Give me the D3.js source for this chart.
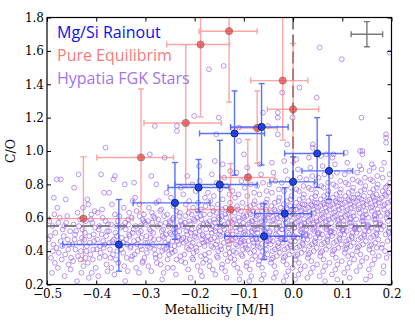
<!DOCTYPE html>
<html>
<head>
<meta charset="utf-8">
<script src="https://cdn.jsdelivr.net/npm/d3@7"></script>
<style>
  body { margin: 0; background: #fff; }
  .axis text { font-family: "DejaVu Serif", serif; font-size: 12px; fill: #000; }
  .axis path, .axis line { stroke: #000; }
</style>
</head>
<body>
<div id="chart"></div>
<script>
// ---- Mg/Si rainout models (blue) ----
var rainoutMH = [-0.354, -0.240, -0.192, -0.149, -0.119, -0.064, 0.049, 0.073, 0.000, -0.017, -0.059]
var rainoutCO = [0.44, 0.689, 0.781, 0.799, 1.105, 1.144, 0.985, 0.881, 0.815, 0.625, 0.489]
var rainoutMHRange = [[-0.468, -0.252], [-0.325, -0.169], [-0.254, -0.130], [-0.240, -0.073], [-0.190, -0.058],
  [-0.127, -0.010], [-0.017, 0.103], [0.018, 0.121], [-0.047, 0.044], [-0.078, 0.037], [-0.139, 0.018]]
var rainoutCORange = [[0.28, 0.709], [0.47, 0.931], [0.635, 0.949], [0.56, 1.064], [0.855, 1.36],
  [0.916, 1.404], [0.781, 1.20], [0.709, 1.094], [0.66, 0.965], [0.46, 0.78], [0.35, 0.685]]

// ---- pure equilibrium models (red) ----
var equilMH = [-0.426, -0.309, -0.218, -0.188, -0.130, -0.021, 0.000, -0.092, -0.127, -0.073]
var equilCO = [0.595, 0.961, 1.168, 1.638, 1.718, 1.422, 1.25, 0.841, 0.649, 1.138]
var equilMHRange = [[-0.495, -0.325], [-0.399, -0.243], [-0.303, -0.146], [-0.257, -0.129], [-0.191, -0.073],
  [-0.086, 0.030], [-0.052, 0.052], [-0.148, -0.037], [-0.215, -0.050], [-0.127, -0.032]]
var equilCORange = [[0.34, 0.965], [0.635, 1.372], [0.785, 1.636], [1.204, 2.1], [1.294, 2.2],
  [1.065, 2.0], [0.93, 1.644], [0.635, 1.069], [0.452, 0.925], [0.927, 1.36]]

// solar reference values and typical stellar error
var solarMH = 0.0
var solarCO = 0.55
var typicalErr = {mh: 0.15, co: 1.70, dmh: 0.032, dco: 0.075}

var legendLabels = ["Mg/Si Rainout", "Pure Equilibrim", "Hypatia FGK Stars"]
var legendColors = ["#0d0df2", "#f57b7b", "#a274ec"]

var xTicks = [-0.5, -0.4, -0.3, -0.2, -0.1, 0.0, 0.1, 0.2]
var yTicks = [0.2, 0.4, 0.6, 0.8, 1.0, 1.2, 1.4, 1.6, 1.8]

// ---- Hypatia catalog stars [M/H, C/O] ----
var hypatia = [
[-.497,.47],[-.492,.36],[-.489,.55],[-.485,.62],[-.481,.42],[-.478,.30],[-.495,.58],[-.487,.44],[-.483,.51],[-.476,.39],[-.490,.27],[-.479,.66],[-.484,.33],[-.493,.49],[-.477,.57],[-.488,.40],[-.480,.83],[-.486,.72],
[-.472,.46],[-.468,.53],[-.463,.38],[-.459,.61],[-.455,.44],[-.452,.29],[-.470,.35],[-.466,.49],[-.461,.57],[-.457,.41],[-.453,.52],[-.474,.60],[-.464,.25],[-.458,.47],[-.451,.36],[-.469,.43],[-.462,.71],[-.456,.32],[-.472,.83],[-.465,.55],
[-.448,.44],[-.445,.78],[-.441,.52],[-.437,.37],[-.433,.59],[-.429,.48],[-.426,.31],[-.446,.56],[-.442,.41],[-.438,.63],[-.434,.45],[-.430,.27],[-.447,.34],[-.443,.50],[-.439,.22],[-.435,.55],[-.431,.40],[-.427,.66],[-.436,.86],[-.444,.47],[-.432,.35],[-.428,.53],
[-.423,.51],[-.419,.43],[-.416,.68],[-.412,.38],[-.408,.57],[-.404,.46],[-.401,.30],[-.422,.36],[-.418,.71],[-.414,.49],[-.410,.62],[-.406,.41],[-.402,.54],[-.421,.58],[-.417,.33],[-.413,.45],[-.409,.27],[-.405,.50],[-.420,.40],[-.411,.59],[-.407,.35],[-.403,.64],[-.415,.24],[-.424,.47],
[-.398,.47],[-.395,.53],[-.391,.39],[-.387,.60],[-.383,.44],[-.379,.32],[-.376,.56],[-.397,.63],[-.393,.36],[-.389,.50],[-.385,.42],[-.381,.58],[-.377,.28],[-.399,.41],[-.394,.55],[-.390,.86],[-.386,.46],[-.382,.37],[-.378,.52],[-.396,.25],[-.388,.65],[-.384,.75],[-.380,.49],[-.392,.43],[-.381,1.02],
[-.373,.45],[-.370,.56],[-.366,.38],[-.362,.62],[-.358,.49],[-.355,.33],[-.351,.54],[-.372,.41],[-.368,.68],[-.364,.47],[-.360,.35],[-.356,.58],[-.352,.43],[-.374,.52],[-.369,.30],[-.365,.83],[-.361,.51],[-.357,.40],[-.353,.61],[-.371,.36],[-.367,.46],[-.363,.26],[-.359,.55],[-.354,.44],[-.374,.75],[-.362,.85],
[-.348,.48],[-.345,.39],[-.341,.57],[-.337,.44],[-.333,.63],[-.329,.35],[-.326,.51],[-.347,.55],[-.343,.31],[-.339,.47],[-.335,.59],[-.331,.42],[-.327,.37],[-.349,.41],[-.344,.66],[-.340,.53],[-.336,.28],[-.332,.49],[-.328,.60],[-.346,.45],[-.342,.80],[-.338,.36],[-.334,.56],[-.330,.43],[-.326,.70],[-.341,.22],[-.333,.50],
[-.323,.46],[-.320,.55],[-.316,.40],[-.312,.61],[-.308,.48],[-.305,.34],[-.301,.57],[-.322,.38],[-.318,.64],[-.314,.51],[-.310,.43],[-.306,.59],[-.302,.36],[-.324,.53],[-.319,.30],[-.315,.47],[-.311,.55],[-.307,.41],[-.303,.62],[-.321,.72],[-.317,.44],[-.313,.27],[-.309,.52],[-.304,.58],[-.323,.81],[-.300,.45],[-.312,.68],[-.306,.33],
[-.298,.49],[-.295,.58],[-.291,.42],[-.287,.63],[-.283,.47],[-.279,.36],[-.276,.55],[-.297,.39],[-.293,.66],[-.289,.52],[-.285,.44],[-.281,.60],[-.277,.33],[-.299,.56],[-.294,.31],[-.290,.48],[-.286,.57],[-.282,.41],[-.278,.69],[-.296,.45],[-.292,.53],[-.288,.28],[-.284,.51],[-.280,.38],[-.291,.98],[-.288,.85],[-.278,.80],[-.284,.61],[-.295,.43],[-.281,1.15],
[-.273,.47],[-.270,.56],[-.266,.40],[-.262,.61],[-.258,.50],[-.255,.35],[-.251,.58],[-.272,.43],[-.268,.65],[-.264,.53],[-.260,.45],[-.256,.62],[-.252,.38],[-.274,.59],[-.269,.32],[-.265,.49],[-.261,.96],[-.257,.42],[-.253,.55],[-.271,.37],[-.267,.52],[-.263,.27],[-.259,.57],[-.254,.44],[-.273,.70],[-.262,.48],[-.257,.75],[-.266,.23],[-.250,.51],[-.270,.64],[-.255,.30],[-.260,.41],
[-.248,.50],[-.245,.59],[-.241,.43],[-.237,.64],[-.233,.48],[-.229,.37],[-.226,.56],[-.247,.41],[-.243,.67],[-.239,.54],[-.235,.46],[-.231,.61],[-.227,.34],[-.249,.57],[-.244,.30],[-.240,.51],[-.236,1.15],[-.236,1.12],[-.232,.44],[-.228,.58],[-.246,.39],[-.242,.53],[-.238,.26],[-.234,.49],[-.230,.63],[-.248,.72],[-.240,.40],[-.233,.55],[-.228,.78],[-.245,.46],[-.237,.35],[-.226,.47],[-.243,.60],[-.231,.52],
[-.223,.48],[-.220,.57],[-.216,.42],[-.212,.63],[-.208,.51],[-.205,.36],[-.201,.59],[-.222,.45],[-.218,.68],[-.214,.54],[-.210,.47],[-.206,.62],[-.202,.39],[-.224,.55],[-.219,.33],[-.215,.50],[-.211,.58],[-.207,.43],[-.203,.66],[-.221,.38],[-.217,.52],[-.213,.29],[-.209,.56],[-.204,.45],[-.201,1.21],[-.223,.74],[-.212,.41],[-.206,.53],[-.200,.49],[-.219,.61],[-.215,.85],[-.208,.24],[-.211,.70],[-.203,.35],[-.217,.46],[-.205,.80],
[-.198,.51],[-.195,.60],[-.191,.44],[-.187,.65],[-.183,.49],[-.179,.38],[-.176,.57],[-.197,.42],[-.193,.69],[-.189,.55],[-.185,.47],[-.181,.62],[-.177,.35],[-.199,.58],[-.194,.31],[-.190,.52],[-.186,.59],[-.182,.45],[-.178,.67],[-.196,.40],[-.192,.54],[-.188,.28],[-.184,.50],[-.180,.43],[-.171,1.49],[-.198,.76],[-.187,.37],[-.182,.56],[-.176,.46],[-.194,.64],[-.190,.82],[-.185,.25],[-.179,.72],[-.197,.48],[-.183,.33],[-.177,.53],[-.191,.91],[-.188,.61],
[-.173,.49],[-.170,.58],[-.166,.43],[-.162,.64],[-.158,.52],[-.155,.37],[-.151,.60],[-.172,.46],[-.168,.70],[-.164,.55],[-.160,.48],[-.156,.63],[-.152,.40],[-.174,.56],[-.169,.34],[-.165,.51],[-.161,.59],[-.157,.44],[-.153,.68],[-.171,.39],[-.167,.53],[-.163,.29],[-.159,.57],[-.154,.46],[-.151,1.20],[-.156,1.10],[-.173,.75],[-.162,.42],[-.157,.54],[-.150,.50],[-.169,.62],[-.165,.86],[-.158,.26],[-.161,.73],[-.153,.36],[-.167,.47],[-.155,.81],[-.170,.31],[-.164,.66],[-.159,.94],
[-.148,.52],[-.145,.61],[-.141,.45],[-.137,.66],[-.133,.50],[-.129,.39],[-.126,.58],[-.147,.43],[-.143,.71],[-.139,.56],[-.135,.48],[-.131,.63],[-.127,.36],[-.149,.59],[-.144,.32],[-.140,.53],[-.136,.60],[-.132,.46],[-.128,.69],[-.146,.41],[-.142,.55],[-.138,.28],[-.134,.51],[-.130,.44],[-.141,1.51],[-.148,.77],[-.137,.38],[-.132,.57],[-.126,.47],[-.144,.65],[-.140,.84],[-.135,.24],[-.129,.74],[-.147,.49],[-.133,.34],[-.127,.54],[-.143,.92],[-.138,.62],[-.131,.42],[-.145,.30],[-.136,.79],[-.128,.88],
[-.123,.50],[-.120,.59],[-.116,.44],[-.112,.65],[-.108,.53],[-.105,.38],[-.101,.61],[-.122,.47],[-.118,.72],[-.114,.56],[-.110,.49],[-.106,.64],[-.102,.41],[-.124,.57],[-.119,.35],[-.115,.52],[-.111,.60],[-.107,.45],[-.103,.69],[-.121,.40],[-.117,.54],[-.113,.30],[-.109,.58],[-.104,.47],[-.110,1.14],[-.110,1.06],[-.100,.98],[-.123,.76],[-.112,.43],[-.107,.55],[-.100,.51],[-.119,.63],[-.115,.87],[-.108,.27],[-.111,.74],[-.103,.37],[-.117,.48],[-.105,.82],[-.120,.32],[-.114,.67],[-.109,.23],[-.102,.57],[-.116,.39],[-.106,.46],
[-.098,.52],[-.095,.61],[-.091,.46],[-.087,.67],[-.083,.51],[-.079,.40],[-.076,.59],[-.097,.44],[-.093,.73],[-.089,.57],[-.085,.49],[-.081,.64],[-.077,.37],[-.099,.60],[-.094,.33],[-.090,.54],[-.086,.62],[-.082,.47],[-.078,.70],[-.096,.42],[-.092,.56],[-.088,.29],[-.084,.52],[-.080,.45],[-.098,.78],[-.087,.39],[-.082,.58],[-.076,.48],[-.094,.66],[-.090,.85],[-.085,.25],[-.079,.75],[-.097,.50],[-.083,.35],[-.077,.55],[-.093,.90],[-.088,.63],[-.081,.43],[-.095,.31],[-.086,.80],[-.078,.53],[-.092,.41],[-.080,.68],[-.089,.22],[-.084,.58],[-.099,.46],
[-.073,.53],[-.070,.62],[-.066,.47],[-.062,.68],[-.058,.52],[-.055,.41],[-.051,.60],[-.072,.45],[-.068,.74],[-.064,.58],[-.060,.50],[-.056,.65],[-.052,.38],[-.074,.61],[-.069,.34],[-.065,.55],[-.061,1.23],[-.057,.48],[-.053,.71],[-.071,.43],[-.067,.57],[-.063,.30],[-.059,.53],[-.054,.46],[-.051,1.15],[-.073,.79],[-.062,.40],[-.057,.59],[-.050,.49],[-.069,.67],[-.065,.86],[-.060,.26],[-.054,.76],[-.072,.51],[-.058,.36],[-.052,.56],[-.068,.92],[-.063,.64],[-.056,.44],[-.070,.32],[-.061,.81],[-.053,.54],[-.067,.42],[-.055,.69],[-.064,.23],[-.059,.60],[-.074,.47],[-.066,.37],
[-.048,.51],[-.045,.63],[-.041,.46],[-.037,.69],[-.033,.54],[-.029,.42],[-.026,.61],[-.047,.47],[-.043,.75],[-.039,.59],[-.035,.50],[-.031,1.23],[-.031,1.20],[-.031,1.10],[-.027,.39],[-.049,.62],[-.044,.35],[-.040,.56],[-.036,.64],[-.032,.49],[-.028,.72],[-.046,.44],[-.042,.58],[-.038,.31],[-.034,.53],[-.030,.45],[-.048,.80],[-.037,.41],[-.032,.60],[-.026,.48],[-.044,.67],[-.040,.87],[-.035,.27],[-.029,.77],[-.047,.52],[-.033,.37],[-.027,.55],[-.043,.93],[-.038,.65],[-.031,.43],[-.045,.33],[-.036,.82],[-.028,.57],[-.042,.40],[-.030,.70],[-.039,.24],[-.034,.62],[-.049,.46],[-.041,.36],[-.025,.66],
[-.023,.53],[-.020,.64],[-.016,.47],[-.012,.70],[-.008,.55],[-.005,.43],[-.001,.62],[-.022,1.35],[-.022,.48],[-.018,.76],[-.014,.60],[-.010,.51],[-.006,.67],[-.002,.40],[-.024,.63],[-.019,.36],[-.015,.57],[-.011,.65],[-.007,.50],[-.003,.73],[-.021,.45],[-.017,.59],[-.013,.32],[-.009,.54],[-.004,.46],[-.012,1.04],[-.001,1.20],[-.023,.81],[-.012,.42],[-.007,.61],[-.000,.49],[-.019,.68],[-.015,.88],[-.010,.28],[-.004,.78],[-.022,.53],[-.008,.38],[-.002,.56],[-.018,.94],[-.013,.66],[-.006,.44],[-.020,.34],[-.011,.83],[-.003,.58],[-.017,.41],[-.005,.71],[-.014,.25],[-.009,.63],[-.024,.47],[-.016,.37],[-.001,.30],[-.019,.22],
[.002,.54],[.005,.65],[.009,.48],[.013,1.38],[.013,.71],[.017,.56],[.020,.44],[.024,.63],[.003,.49],[.007,.77],[.011,.61],[.015,.52],[.019,.68],[.023,.41],[.001,.64],[.006,.37],[.010,.58],[.014,.66],[.018,.51],[.022,.74],[.004,.46],[.008,.60],[.012,.33],[.016,.55],[.021,.47],[.002,.82],[.013,.43],[.018,.62],[.025,.50],[.006,.69],[.010,.89],[.015,.29],[.021,.79],[.003,.54],[.017,.39],[.023,.57],[.007,.95],[.012,.67],[.019,.45],[.005,.35],[.014,.84],[.022,.59],[.008,.42],[.020,.72],[.011,.26],[.016,.64],[.001,.48],[.009,.38],[.024,.31],[.004,.23],[.018,.53],[.012,.76],[.006,.57],[.023,.68],
[.027,.53],[.030,.66],[.034,.49],[.038,.72],[.042,.57],[.045,.45],[.049,.64],[.028,.50],[.032,.78],[.036,.62],[.040,1.04],[.040,1.02],[.040,.53],[.044,.69],[.048,1.32],[.048,.42],[.026,.65],[.031,.38],[.035,.59],[.039,.67],[.043,.52],[.047,.75],[.029,.47],[.033,.61],[.037,.34],[.041,.56],[.046,.48],[.027,.83],[.038,.44],[.043,.63],[.050,.51],[.031,.70],[.035,.90],[.040,.30],[.046,.80],[.028,.55],[.042,.40],[.048,.58],[.032,.96],[.037,.68],[.044,.46],[.030,.36],[.039,.85],[.047,.60],[.033,.43],[.045,.73],[.036,.27],[.041,.65],[.026,.49],[.034,.39],[.049,.32],[.029,.24],[.043,.54],[.037,.77],[.031,.58],[.048,.69],
[.052,.55],[.055,.67],[.059,.50],[.063,.73],[.067,.58],[.070,.46],[.074,.65],[.053,.51],[.057,.79],[.061,.63],[.065,.54],[.069,.70],[.073,.43],[.051,.66],[.056,.39],[.060,.60],[.064,.68],[.068,.53],[.072,.76],[.054,.48],[.058,.62],[.062,.35],[.066,.57],[.071,.49],[.054,1.62],[.067,.98],[.052,.84],[.063,.45],[.068,.64],[.075,.52],[.056,.71],[.060,.91],[.065,.31],[.071,.81],[.053,.56],[.067,.41],[.073,.59],[.057,.97],[.062,.69],[.069,.47],[.055,.37],[.064,.86],[.072,.61],[.058,.44],[.070,.74],[.061,.28],[.066,.66],[.051,.50],[.059,.40],[.074,.33],[.054,.25],[.068,.55],[.062,.78],[.056,.59],[.073,.70],[.065,.22],
[.077,.54],[.080,.68],[.084,.51],[.088,.74],[.092,.59],[.095,.47],[.099,1.55],[.099,.66],[.078,.52],[.082,.80],[.086,.64],[.090,.55],[.094,.71],[.098,.44],[.076,.67],[.081,.40],[.085,.61],[.089,.69],[.093,.54],[.097,.77],[.079,.49],[.083,.63],[.087,.36],[.091,.58],[.096,.50],[.080,.96],[.077,.85],[.088,.46],[.093,.65],[.100,.53],[.081,.72],[.085,.92],[.090,.32],[.096,.82],[.078,.57],[.092,.42],[.098,.60],[.082,.98],[.087,.70],[.094,.48],[.080,.38],[.089,.87],[.097,.62],[.083,.45],[.095,.75],[.086,.29],[.091,.67],[.076,.51],[.084,.41],[.099,.34],[.079,.26],[.093,.56],[.087,.79],[.081,.60],[.098,.71],[.090,.23],
[.102,.56],[.105,.69],[.109,.52],[.113,.75],[.117,.60],[.120,.48],[.124,.67],[.103,.53],[.107,.81],[.111,.65],[.115,.57],[.119,.72],[.123,.45],[.101,.68],[.106,.41],[.110,.62],[.114,.70],[.118,.55],[.122,.78],[.104,.50],[.108,.64],[.112,.37],[.116,.59],[.121,.51],[.105,.86],[.113,.47],[.118,.66],[.125,.54],[.106,.73],[.110,.93],[.115,.33],[.121,.83],[.103,.58],[.117,.43],[.123,.61],[.107,.99],[.112,.71],[.119,.49],[.105,.39],[.114,.88],[.122,.63],[.108,.46],[.120,.76],[.111,.30],[.116,.68],[.101,.52],[.109,.42],[.124,.35],[.104,.27],[.118,.57],[.112,.80],[.106,.61],[.123,.72],[.115,.24],[.110,.44],[.120,.38],
[.127,.55],[.130,.70],[.134,.53],[.138,.76],[.142,.61],[.145,.49],[.149,.68],[.128,.54],[.132,.82],[.136,1.00],[.139,1.20],[.141,1.00],[.141,.98],[.136,.66],[.140,.58],[.144,.73],[.148,.46],[.126,.69],[.131,.42],[.135,.63],[.139,.71],[.143,.56],[.147,.79],[.129,.51],[.133,.65],[.137,.38],[.141,.60],[.146,.52],[.130,.87],[.138,.48],[.143,.67],[.150,.55],[.131,.74],[.135,.91],[.140,.34],[.146,.84],[.128,.59],[.142,.44],[.148,.62],[.134,.72],[.144,.50],[.130,.40],[.139,.89],[.147,.64],[.133,.47],[.145,.77],[.136,.31],[.141,.69],[.126,.53],[.134,.43],[.149,.36],[.129,.28],[.143,.58],[.137,.81],[.148,.23],
[.152,.56],[.155,.71],[.159,.54],[.163,.77],[.167,.62],[.170,.50],[.174,.69],[.153,.55],[.157,.83],[.161,.67],[.165,.59],[.169,.74],[.173,.47],[.151,.70],[.156,.43],[.160,.64],[.164,.72],[.168,.57],[.172,.80],[.154,.52],[.158,.66],[.162,.39],[.166,.61],[.171,.53],[.155,.88],[.163,.49],[.168,.68],[.175,.56],[.156,.75],[.160,.92],[.165,.35],[.171,.85],[.153,.60],[.167,.45],[.173,.63],[.162,.73],[.169,.51],[.155,.41],[.164,.90],[.172,.65],[.158,.48],[.170,.78],[.161,.32],[.166,.70],[.151,.54],[.159,.44],[.174,.37],[.154,.29],[.168,.59],[.162,.82],[.157,.25],[.170,.42],
[.177,.57],[.180,.72],[.184,.55],[.188,.78],[.192,.63],[.195,.51],[.199,.70],[.178,.56],[.182,.84],[.186,.68],[.190,.60],[.194,.75],[.198,.48],[.176,.71],[.181,.44],[.185,.65],[.189,.73],[.193,.58],[.197,.81],[.179,.53],[.183,.67],[.187,.40],[.191,.62],[.196,.54],[.189,1.10],[.189,1.08],[.189,1.05],[.196,1.59],[.180,.89],[.188,.50],[.193,.69],[.182,.76],[.185,.93],[.190,.36],[.196,.86],[.178,.61],[.192,.46],[.198,.64],[.187,.74],[.194,.52],[.180,.42],[.184,.31],[.191,.79],[.197,.39],[.183,.27]
]

var W = 415, H = 326
var margin = { top: 17.5, right: 23.5, bottom: 41.5, left: 47 },
  width = W - margin.left - margin.right,
  height = H - margin.top - margin.bottom

var svg = d3.select("#chart")
  .append("svg")
  .attr("width", W)
  .attr("height", H)
  .append("g")
  .attr("transform", "translate(" + margin.left + "," + margin.top + ")")

var x = d3.scaleLinear().domain([-0.5, 0.2]).range([0, width])
var y = d3.scaleLinear().domain([0.2, 1.8]).range([height, 0])

svg.append("clipPath").attr("id", "plotClip")
  .append("rect").attr("width", width).attr("height", height)

var plot = svg.append("g").attr("clip-path", "url(#plotClip)")

// Hypatia stars
plot.append("g")
  .selectAll("circle")
  .data(hypatia)
  .enter()
  .append("circle")
  .attr("cx", function(d) { return x(d[0]) })
  .attr("cy", function(d) { return y(d[1]) })
  .attr("r", 2.4)
  .style("fill", "none")
  .style("stroke", "#9866ee")
  .style("stroke-width", 1)
  .style("opacity", 0.68)

// solar dashed lines
plot.append("line")
  .attr("x1", 0).attr("x2", width)
  .attr("y1", y(solarCO)).attr("y2", y(solarCO))
  .style("stroke", "#6e6e6e").style("stroke-width", 2)
  .style("stroke-dasharray", "12,5").style("opacity", 0.85)
plot.append("line")
  .attr("x1", x(solarMH)).attr("x2", x(solarMH))
  .attr("y1", 0).attr("y2", height)
  .style("stroke", "#6e6e6e").style("stroke-width", 2)
  .style("stroke-dasharray", "12,5").style("opacity", 0.85)

// error bars with caps
var cap = 3
function drawErrors(g, mh, co, mhR, coR, color, opacity) {
  var eg = g.append("g").style("stroke", color).style("stroke-width", 1.4).style("opacity", opacity)
  mh.forEach(function(m, i) {
    var cx = x(m), cy = y(co[i])
    var x0 = x(mhR[i][0]), x1 = x(mhR[i][1])
    var y0 = y(coR[i][0]), y1 = y(coR[i][1])
    eg.append("line").attr("x1", x0).attr("x2", x1).attr("y1", cy).attr("y2", cy)
    eg.append("line").attr("x1", cx).attr("x2", cx).attr("y1", y0).attr("y2", y1)
    eg.append("line").attr("x1", x0).attr("x2", x0).attr("y1", cy - cap).attr("y2", cy + cap)
    eg.append("line").attr("x1", x1).attr("x2", x1).attr("y1", cy - cap).attr("y2", cy + cap)
    eg.append("line").attr("x1", cx - cap).attr("x2", cx + cap).attr("y1", y0).attr("y2", y0)
    eg.append("line").attr("x1", cx - cap).attr("x2", cx + cap).attr("y1", y1).attr("y2", y1)
  })
}

drawErrors(plot, equilMH, equilCO, equilMHRange, equilCORange, "#ff6a6a", 0.6)
plot.append("g")
  .selectAll("circle")
  .data(equilMH)
  .enter()
  .append("circle")
  .attr("cx", function(d) { return x(d) })
  .attr("cy", function(d, i) { return y(equilCO[i]) })
  .attr("r", 3.6)
  .style("fill", "#f03c3c")
  .style("stroke", "#5a4a4a")
  .style("stroke-width", 0.8)
  .style("opacity", 0.7)

drawErrors(plot, rainoutMH, rainoutCO, rainoutMHRange, rainoutCORange, "#2146ff", 0.75)
plot.append("g")
  .selectAll("circle")
  .data(rainoutMH)
  .enter()
  .append("circle")
  .attr("cx", function(d) { return x(d) })
  .attr("cy", function(d, i) { return y(rainoutCO[i]) })
  .attr("r", 3.6)
  .style("fill", "#1e44e6")
  .style("stroke", "#0b1a5c")
  .style("stroke-width", 0.8)

// typical error cross
drawErrors(plot, [typicalErr.mh], [typicalErr.co],
  [[typicalErr.mh - typicalErr.dmh, typicalErr.mh + typicalErr.dmh]],
  [[typicalErr.co - typicalErr.dco, typicalErr.co + typicalErr.dco]], "#7a7a7a", 1)

// axes, ticks inside like the original
var fmt = d3.format(".1f")
svg.append("g").attr("class", "axis")
  .attr("transform", "translate(0," + height + ")")
  .call(d3.axisBottom(x).tickValues(xTicks).tickFormat(fmt).tickSizeInner(-4).tickSizeOuter(0).tickPadding(5))
svg.append("g").attr("class", "axis")
  .call(d3.axisTop(x).tickValues(xTicks).tickFormat("").tickSizeInner(-4).tickSizeOuter(0))
svg.append("g").attr("class", "axis")
  .call(d3.axisLeft(y).tickValues(yTicks).tickFormat(fmt).tickSizeInner(-4).tickSizeOuter(0).tickPadding(3))
svg.append("g").attr("class", "axis")
  .attr("transform", "translate(" + width + ",0)")
  .call(d3.axisRight(y).tickValues(yTicks).tickFormat("").tickSizeInner(-4).tickSizeOuter(0))
svg.selectAll(".axis .domain").remove()

svg.append("rect")
  .attr("width", width).attr("height", height)
  .style("fill", "none").style("stroke", "#000").style("stroke-width", 1.2)

// axis labels
svg.append("text")
  .attr("x", width / 2).attr("y", height + 29)
  .attr("text-anchor", "middle")
  .style("font-family", "DejaVu Serif, serif").style("font-size", "12.5px")
  .text("Metallicity  [M/H]")
svg.append("text")
  .attr("transform", "translate(" + (-32) + "," + (height / 2) + ") rotate(-90)")
  .attr("text-anchor", "middle")
  .style("font-family", "DejaVu Serif, serif").style("font-size", "12.5px")
  .text("C/O")

// legend (text only)
svg.append("g")
  .selectAll("text")
  .data(legendLabels)
  .enter()
  .append("text")
  .attr("x", 10)
  .attr("y", function(d, i) { return 20.5 + i * 23 })
  .style("font-family", "Open Sans, sans-serif")
  .style("font-size", "16px")
  .style("fill", function(d, i) { return legendColors[i] })
  .text(function(d) { return d })
</script>
</body>
</html>
